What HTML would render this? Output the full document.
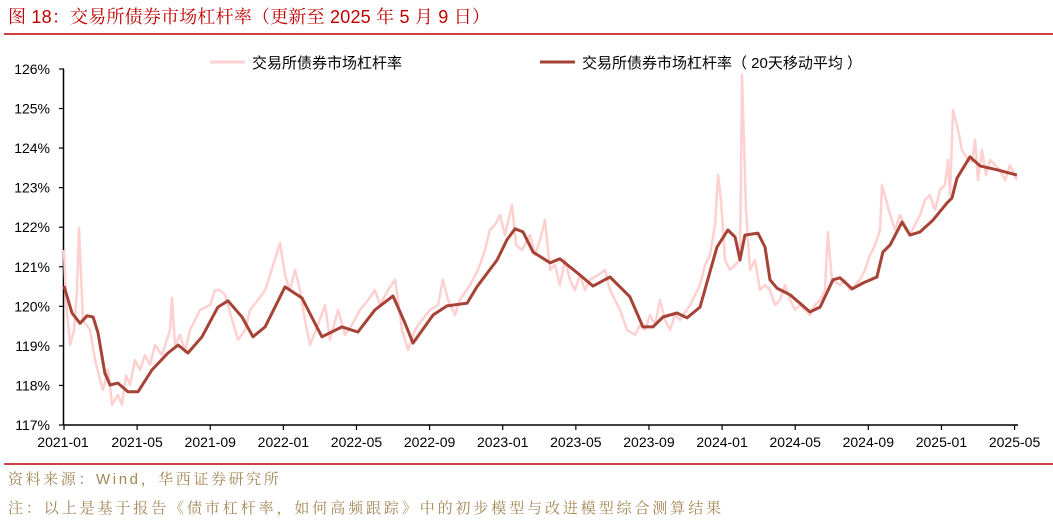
<!DOCTYPE html>
<html><head><meta charset="utf-8">
<style>
html,body{margin:0;padding:0;background:#fff;}
body{width:1053px;height:523px;overflow:hidden;position:relative;}
svg{position:absolute;left:0;top:0;}
.cn{font-family:"Liberation Sans","Noto Sans CJK SC",sans-serif;}
.serif{font-family:"Liberation Sans","Noto Serif CJK SC",serif;}
</style></head>
<body>
<svg id="chart" width="1053" height="523" viewBox="0 0 1053 523">
  <text x="8" y="23" class="serif" font-size="18" letter-spacing="0.2" fill="#c00000">图 18：交易所债券市场杠杆率（更新至 2025 年 5 月 9 日）</text>
  <line x1="4" y1="34" x2="1053" y2="34" stroke="#c00000" stroke-width="1.5"/>
  <g>
    <line x1="210" y1="62" x2="245" y2="62" stroke="#ffd0d0" stroke-width="3"/>
    <text x="252" y="68" class="cn" font-size="15" fill="#000">交易所债券市场杠杆率</text>
    <line x1="540" y1="62" x2="575" y2="62" stroke="#a64236" stroke-width="3"/>
    <text x="582" y="68" class="cn" font-size="15" fill="#000" xml:space="preserve">交易所债券市场杠杆率（ 20天移动平均 ）</text>
  </g>
  <g id="axes"></g>
  <g id="series"></g>
  <line x1="4" y1="464" x2="1053" y2="464" stroke="#c00000" stroke-width="1.5"/>
  <text x="8" y="484" class="serif" font-size="15" letter-spacing="2.6" fill="#a58654">资料来源：Wind，华西证券研究所</text>
  <text x="8" y="513" class="serif" font-size="15" letter-spacing="2.9" fill="#a58654">注：以上是基于报告《债市杠杆率，如何高频跟踪》中的初步模型与改进模型综合测算结果</text>
</svg>
<script>
// month offsets from 2021-01 and values (%)
const maMonths=[0,0.44,0.88,1.26,1.59,1.86,2.24,2.52,2.95,3.5,4.05,4.81,5.69,6.24,6.78,7.55,8.42,8.97,9.74,10.34,11,12.09,13.02,14.11,15.21,16.08,17.01,18,18.65,19.09,20.19,20.95,22.05,22.59,23.69,24.23,24.67,25.11,25.66,26.59,27.13,28.23,28.94,29.87,30.96,31.67,32.22,32.77,33.53,34.08,34.79,35.72,36.32,36.71,36.98,37.25,37.96,38.35,38.62,39,39.72,40.81,41.36,42.07,42.45,43.11,43.71,44.47,44.8,45.19,45.84,46.28,46.83,47.54,48.3,48.58,48.85,49.56,50.11,51.04,52.13];
const maValues=[120.51,119.83,119.57,119.76,119.73,119.33,118.31,118.01,118.06,117.84,117.84,118.39,118.82,119.02,118.82,119.23,119.98,120.14,119.73,119.23,119.48,120.49,120.21,119.23,119.48,119.35,119.91,120.26,119.58,119.07,119.78,120.01,120.08,120.49,121.17,121.68,121.96,121.88,121.37,121.1,121.2,120.79,120.51,120.74,120.24,119.48,119.48,119.73,119.83,119.71,119.98,121.5,121.93,121.75,121.17,121.8,121.85,121.5,120.67,120.46,120.29,119.86,119.98,120.67,120.72,120.44,120.59,120.74,121.37,121.55,122.13,121.8,121.88,122.18,122.61,122.74,123.24,123.78,123.55,123.45,123.32];
const rawMonths=[0,0.11,0.33,0.55,0.71,0.82,1.04,1.42,1.7,1.97,2.13,2.41,2.63,2.95,3.17,3.39,3.61,3.88,4.16,4.43,4.7,4.98,5.36,5.8,5.91,6.07,6.35,6.62,6.89,7.44,7.99,8.26,8.53,8.81,9.19,9.52,9.9,10.18,10.61,11,11.27,11.82,12.09,12.36,12.64,12.91,13.18,13.46,13.89,14.28,14.55,14.99,15.37,15.75,16.19,16.63,17.01,17.29,17.72,18.11,18.27,18.49,18.82,19.2,19.58,20.02,20.46,20.73,21.01,21.39,21.66,22.21,22.65,23.03,23.3,23.58,23.85,24.12,24.51,24.73,25.05,25.49,25.77,26.04,26.31,26.59,26.86,27.13,27.41,27.68,27.95,28.23,28.5,28.77,29.21,29.6,29.87,30.14,30.42,30.8,31.24,31.51,31.78,32.06,32.33,32.6,32.88,33.15,33.42,33.7,34.25,34.79,35.07,35.34,35.61,35.78,35.94,36.16,36.43,36.71,36.98,37.09,37.31,37.53,37.8,38.07,38.35,38.62,38.89,39.17,39.44,39.72,39.99,40.26,40.54,40.81,41.08,41.36,41.63,41.79,42.01,42.45,42.72,43,43.27,43.54,43.82,44.09,44.37,44.64,44.75,44.97,45.19,45.46,45.73,46.01,46.28,46.55,46.83,47.1,47.37,47.65,47.92,48.19,48.36,48.47,48.63,48.91,49.12,49.45,49.67,49.84,50,50.22,50.44,50.66,50.93,51.2,51.48,51.75,52.13];
const rawValues=[121.42,120.16,119.02,119.4,120.41,121.98,119.66,119.4,118.64,118.14,117.89,118.39,117.51,117.76,117.51,118.26,118.01,118.64,118.39,118.77,118.52,119.02,118.77,119.4,120.21,119.02,119.28,118.85,119.4,119.91,120.03,120.41,120.41,120.29,119.66,119.15,119.4,119.91,120.16,120.41,120.79,121.6,120.79,120.41,120.92,120.41,119.66,119.02,119.53,120.03,119.15,119.91,119.28,119.53,119.91,120.16,120.41,120.03,120.41,120.67,120.16,119.4,118.9,119.4,119.66,119.91,120.03,120.67,120.16,119.78,120.16,120.54,120.92,121.42,121.93,122.06,122.31,121.8,122.56,121.55,121.42,121.8,121.3,121.68,122.18,120.92,121.05,120.54,121.17,120.67,120.41,120.79,120.41,120.67,120.79,120.92,120.41,120.16,119.91,119.4,119.28,119.53,119.4,119.78,119.53,120.16,119.66,119.4,119.78,119.66,120.03,120.54,121.05,121.3,122.06,123.32,122.69,121.17,120.92,121.05,121.17,125.85,122.44,120.92,121.17,120.41,120.54,120.41,120.03,120.16,120.54,120.16,119.91,120.03,119.91,119.78,120.03,120.16,120.41,121.88,120.67,120.54,120.67,120.41,120.54,120.67,120.92,121.3,121.55,121.93,123.07,122.69,122.31,121.93,122.31,122.06,121.8,122.06,122.31,122.69,122.81,122.44,122.94,123.07,123.7,122.81,124.96,124.46,123.95,123.7,123.65,124.21,123.19,123.95,123.32,123.7,123.57,123.45,123.19,123.57,123.19];
const yTicks=[117,118,119,120,121,122,123,124,125,126];
const xTickMonths=[0,4,8,12,16,20,24,28,32,36,40,44,48,52];
const xTickLabels=["2021-01","2021-05","2021-09","2022-01","2022-05","2022-09","2023-01","2023-05","2023-09","2024-01","2024-05","2024-09","2025-01","2025-05"];

const NS="http://www.w3.org/2000/svg";
const X0=64,PXM=18.28,Y0=425,PXV=39.56;
const xs=m=>X0+m*PXM;
const ys=v=>Y0-(v-117)*PXV;
function mk(tag,attrs,parent){const e=document.createElementNS(NS,tag);for(const k in attrs)e.setAttribute(k,attrs[k]);parent.appendChild(e);return e;}
const axes=document.getElementById('axes');
const yAxis=mk('line',{x1:X0-0.5,y1:ys(126),x2:X0-0.5,y2:Y0,stroke:'#000','stroke-width':1.5},axes);


const xAxis=mk('line',{x1:X0-0.5,y1:Y0,x2:1018,y2:Y0,stroke:'#000','stroke-width':1.5},axes);


yTicks.forEach(v=>{
  const t=mk('line',{x1:X0-5,y1:ys(v),x2:X0,y2:ys(v),stroke:'#000','stroke-width':1.2},axes);
  
  
  const l=mk('text',{x:50,y:ys(v)+5,'text-anchor':'end','font-size':14,'font-family':'Liberation Sans, sans-serif',fill:'#000'},axes);
  l.textContent=v+'%';
  
  
});
xTickMonths.forEach((m,i)=>{
  const t=mk('line',{x1:xs(m),y1:Y0,x2:xs(m),y2:Y0+5,stroke:'#000','stroke-width':1.2},axes);
  
  
  const l=mk('text',{x:xs(m)+(i==0?-1:0),y:447,'text-anchor':'middle','font-size':14,'font-family':'Liberation Sans, sans-serif',fill:'#000'},axes);
  l.textContent=xTickLabels[i];
  
  
});
const ser=document.getElementById('series');
function path(ms,vs){return ms.map((m,i)=>(i?'L':'M')+xs(m).toFixed(1)+','+ys(vs[i]).toFixed(1)).join(' ');}
const raw=mk('path',{d:path(rawMonths,rawValues),fill:'none',stroke:'#ffd0d0','stroke-width':2.5,'stroke-linejoin':'round'},ser);


const ma=mk('path',{d:path(maMonths,maValues),fill:'none',stroke:'#a64236','stroke-width':3,'stroke-linejoin':'round'},ser);


</script>
</body></html>
